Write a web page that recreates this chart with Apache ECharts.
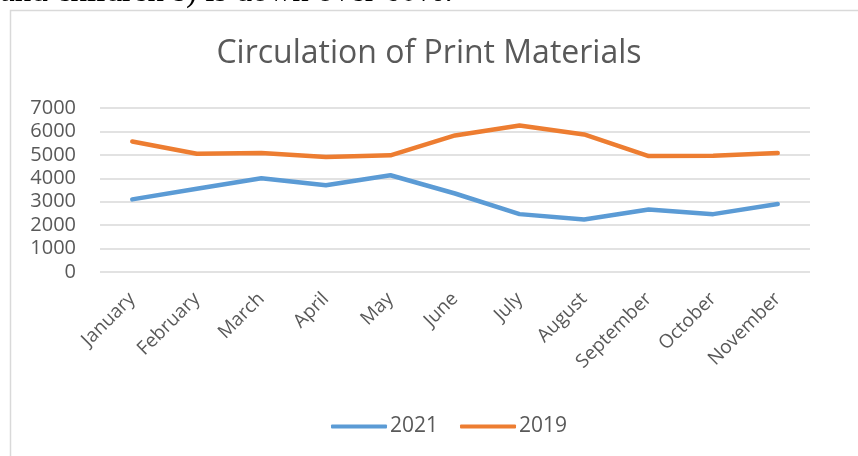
<!DOCTYPE html>
<html>
<head>
<meta charset="utf-8">
<script src="https://cdn.jsdelivr.net/npm/echarts@6/dist/echarts.min.js"></script>
<style>
    html, body { margin: 0; padding: 0; background: #fff; }
    #chart { width: 858px; height: 456px; }
</style>
</head>
<body>
<div id="chart"></div>
<script>
    const months = ['January', 'February', 'March', 'April', 'May', 'June', 'July', 'August', 'September', 'October', 'November'];
    const values2021 = [3100, 3550, 4000, 3700, 4130, 3350, 2470, 2240, 2670, 2470, 2900];
    const values2019 = [5570, 5050, 5080, 4910, 4980, 5830, 6250, 5870, 4950, 4960, 5080];
    const yTicks = [0, 1000, 2000, 3000, 4000, 5000, 6000, 7000];

    const chart = echarts.init(document.getElementById('chart'));
    const option = {
        animation: false,
        backgroundColor: '#fff',
        textStyle: { fontFamily: 'Open Sans' },
        title: {
            text: 'Circulation of Print Materials',
            left: 'center',
            top: 33,
            textStyle: { fontSize: 32, fontWeight: 'normal', color: '#595959', fontFamily: 'Open Sans' }
        },
        graphic: [
            {
                type: 'rect',
                shape: { x: 10.5, y: 10.5, width: 900, height: 500 },
                style: { fill: 'none', stroke: '#d9d9d9', lineWidth: 1.5 },
                silent: true
            },
            {
                type: 'text',
                x: 0,
                y: 9,
                style: { text: 'and children\u2019s) is down over 60%.', font: '33px "Liberation Serif"', fill: '#000', verticalAlign: 'bottom' },
                silent: true
            }
        ],
        legend: {
            bottom: 14,
            left: 326,
            itemWidth: 56,
            itemHeight: 4,
            itemGap: 22,
            icon: 'roundRect',
            textStyle: { fontSize: 21, color: '#595959', padding: [0, 0, 0, -2] },
            data: ['2021', '2019']
        },
        grid: { left: 100, right: 48, top: 108, bottom: 184 },
        xAxis: {
            type: 'category',
            data: months,
            boundaryGap: true,
            axisLine: { show: false },
            axisTick: { show: false },
            axisLabel: { rotate: 45, fontSize: 19, color: '#595959', margin: 24, interval: 0 }
        },
        yAxis: {
            type: 'value',
            min: yTicks[0],
            max: yTicks[yTicks.length - 1],
            interval: 1000,
            axisLine: { show: false },
            axisTick: { show: false },
            axisLabel: { fontSize: 20, color: '#595959', margin: 24, formatter: v => String(v) },
            splitLine: { lineStyle: { color: '#d9d9d9', width: 1.5 } }
        },
        series: [
            {
                name: '2021',
                type: 'line',
                data: values2021,
                showSymbol: false,
                symbol: 'none',
                lineStyle: { color: '#5b9bd5', width: 4.5, cap: 'round', join: 'round' },
                itemStyle: { color: '#5b9bd5' }
            },
            {
                name: '2019',
                type: 'line',
                data: values2019,
                showSymbol: false,
                symbol: 'none',
                lineStyle: { color: '#ed7d31', width: 4.5, cap: 'round', join: 'round' },
                itemStyle: { color: '#ed7d31' }
            }
        ]
    };
    chart.setOption(option);
</script>
</body>
</html>
